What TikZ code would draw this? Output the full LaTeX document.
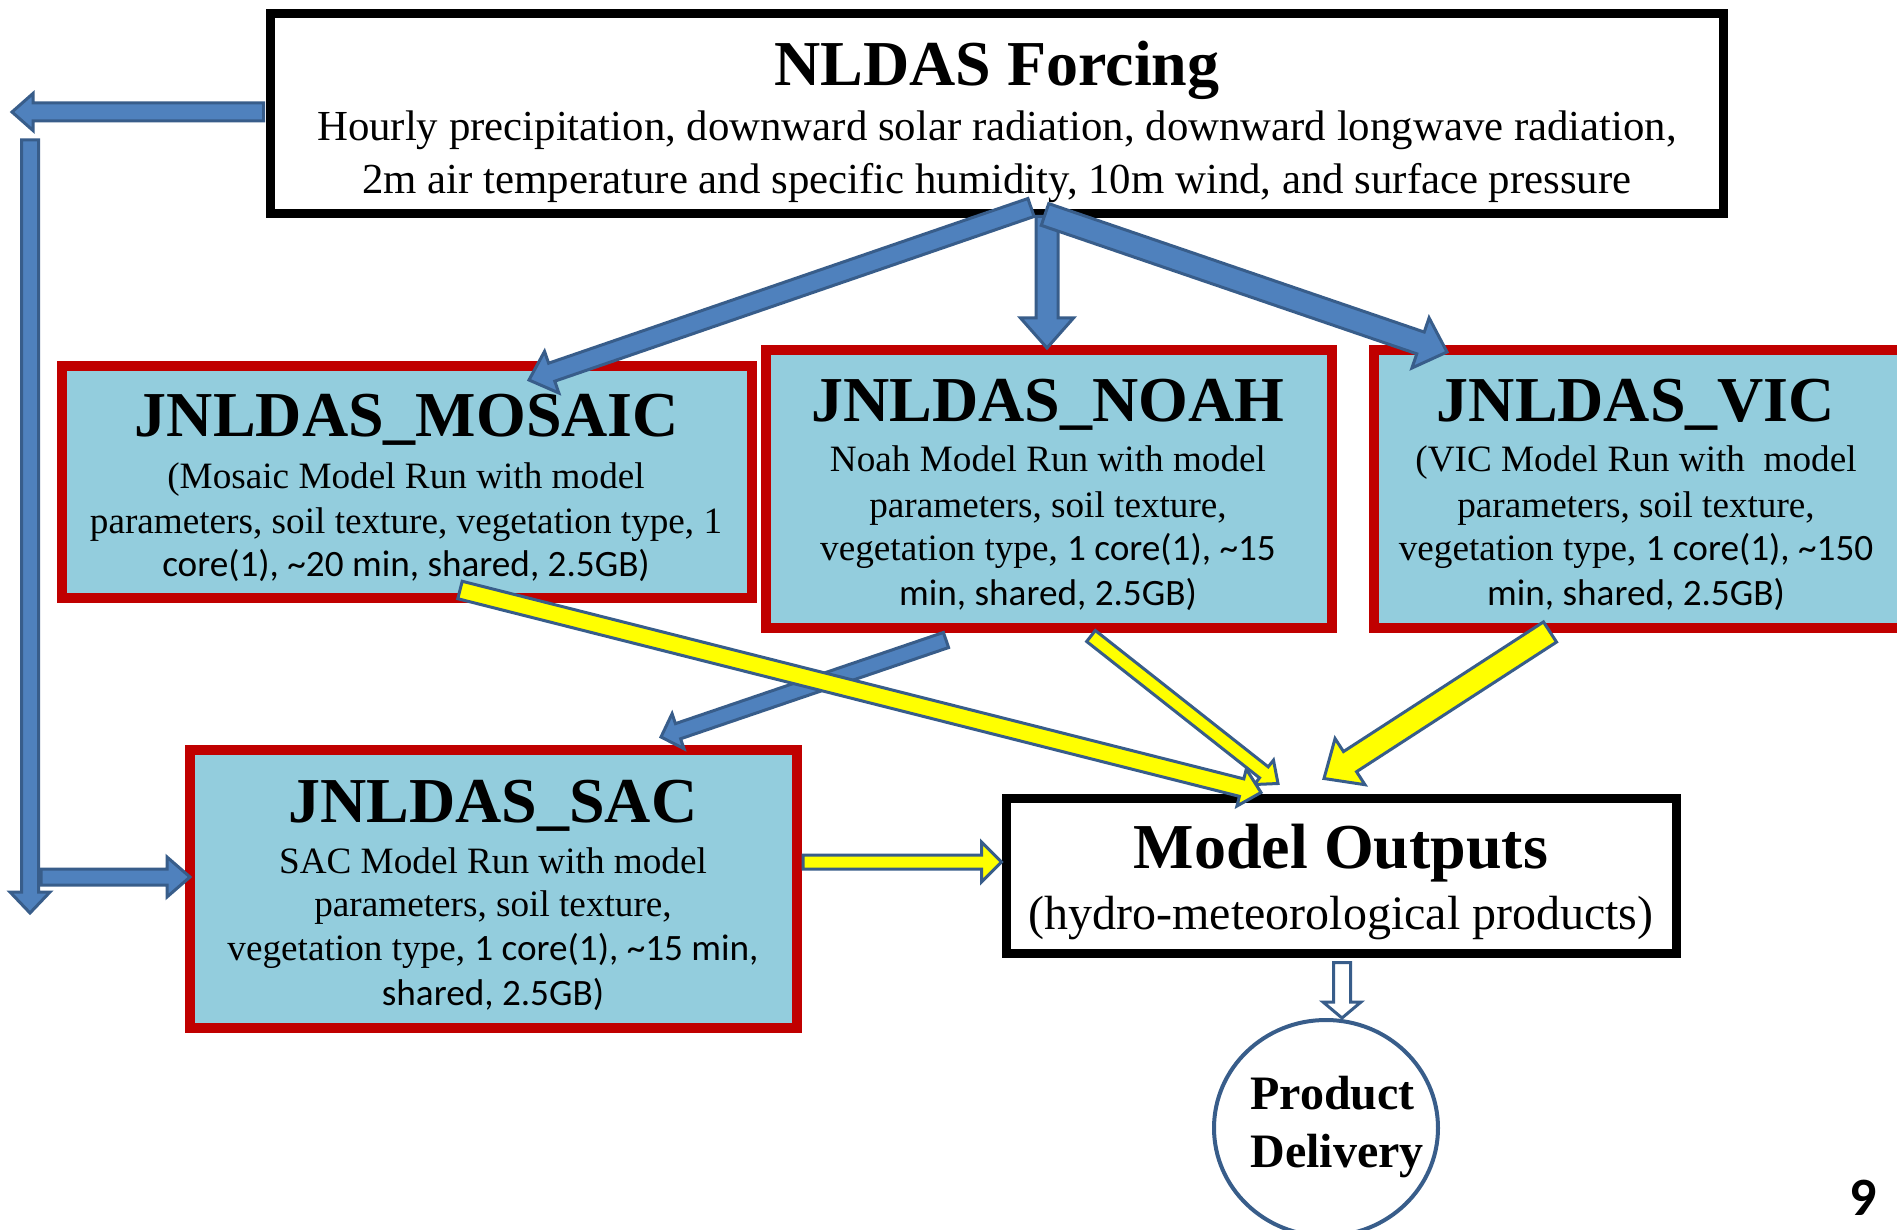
\documentclass[tikz,border=0pt]{standalone}
\usepackage{fontspec}
\setmainfont{Liberation Serif}
\newfontfamily\calib{Carlito}
\usetikzlibrary{calc,shapes.geometric}
\definecolor{boxred}{HTML}{C00000}
\definecolor{boxblue}{HTML}{93CDDD}
\definecolor{arrblue}{HTML}{4F81BD}
\definecolor{arredge}{HTML}{385D8A}
\definecolor{arryel}{HTML}{FFFF00}
% #1 style, #2 start, #3 tip, #4 shaft px, #5 head px, #6 head length px
\newcommand\blockarrow[6]{%
  \pgfmathsetmacro\BAs{(#4-3)/4}%
  \pgfmathsetmacro\BAh{(#5-3)/4}%
  \pgfmathsetmacro\BAl{#6/2}%
  \coordinate (BAbase) at ($(#3)!\BAl pt!(#2)$);
  \draw[#1] ($(#2)!\BAs pt!90:(#3)$) -- ($(BAbase)!\BAs pt!90:(#3)$) -- ($(BAbase)!\BAh pt!90:(#3)$) -- (#3) -- ($(BAbase)!\BAh pt!-90:(#3)$) -- ($(BAbase)!\BAs pt!-90:(#3)$) -- ($(#2)!\BAs pt!-90:(#3)$) -- cycle;
}
\begin{document}
\begin{tikzpicture}[x=0.5pt,y=-0.5pt,
  redbox/.style={draw=boxred, fill=boxblue, line width=5pt, inner sep=0pt},
  blackbox/.style={draw=black, fill=white, line width=4.5pt, inner sep=0pt},
  bluearrow/.style={fill=arrblue, draw=arredge, line width=1.5pt},
  yelarrow/.style={fill=arryel, draw=arredge, line width=1.5pt},
  whitearrow/.style={fill=white, draw=arredge, line width=1.5pt},
  ttl/.style={font=\bfseries\fontsize{32}{36}\selectfont, anchor=base, inner sep=0pt},
  nbody/.style={font=\fontsize{21.4}{26}\selectfont, anchor=base, inner sep=0pt},
  bbody/.style={font=\fontsize{18.6}{22}\selectfont, anchor=base, inner sep=0pt},
  subttl/.style={font=\fontsize{24}{28}\selectfont, anchor=base, inner sep=0pt},
  prodtxt/.style={font=\bfseries\fontsize{24}{28}\selectfont, anchor=base west, inner sep=0pt}]
\useasboundingbox (0,0) rectangle (1897,1230);
\fill[white] (0,0) rectangle (1897,1230);
\clip (0,0) rectangle (1897,1230);

% boxes
\node[blackbox, minimum width=726.5pt, minimum height=100pt] (nldas) at (996.5,114) {};
\node[redbox, minimum width=345pt, minimum height=116pt] (mosaic) at (407,482) {};
\node[redbox, minimum width=283pt, minimum height=139pt] (noah) at (1049,489) {};
\node[redbox, minimum width=265.5pt, minimum height=139pt] (vic) at (1639.5,489) {};
\node[redbox, minimum width=303.5pt, minimum height=139pt] (sac) at (493.5,889) {};
\node[blackbox, minimum width=335pt, minimum height=77.5pt] (out) at (1341,875.5) {};
\node[ellipse, draw=arredge, fill=white, line width=2pt, minimum width=112pt, minimum height=108pt, inner sep=0pt] (prod) at (1326,1128) {};

% texts
\node[ttl] (nlt) at (997,86) {NLDAS Forcing};
\node[nbody] (nl1) at (997,141) {Hourly precipitation, downward solar radiation, downward longwave radiation,};
\node[nbody] (nl2) at (997,194) {2m air temperature and specific humidity, 10m wind, and surface pressure};

\node[ttl] (mot) at (407,437) {JNLDAS\_MOSAIC};
\node[bbody] (mo1) at (406,488) {(Mosaic Model Run with model};
\node[bbody] (mo2) at (406,533) {parameters, soil texture, vegetation type, 1};
\node[bbody] (mo3) at (406,576) {\calib core(1), \textasciitilde 20 min, shared, 2.5GB)};

\node[ttl] (not) at (1048,422) {JNLDAS\_NOAH};
\node[bbody] (no1) at (1048,472) {Noah Model Run with model};
\node[bbody] (no2) at (1048,517) {parameters, soil texture,};
\node[bbody] (no3) at (1048,560) {vegetation type, {\calib 1 core(1), \textasciitilde 15}};
\node[bbody] (no4) at (1048,605) {\calib min, shared, 2.5GB)};

\node[ttl] (vit) at (1636,422) {JNLDAS\_VIC};
\node[bbody] (vi1) at (1636,472) {(VIC Model Run with\ \ model};
\node[bbody] (vi2) at (1636,517) {parameters, soil texture,};
\node[bbody] (vi3) at (1636,560) {vegetation type, {\calib 1 core(1), \textasciitilde 150}};
\node[bbody] (vi4) at (1636,605) {\calib min, shared, 2.5GB)};

\node[ttl] (sat) at (493,822) {JNLDAS\_SAC};
\node[bbody] (sa1) at (493,873) {SAC Model Run with model};
\node[bbody] (sa2) at (493,916) {parameters, soil texture,};
\node[bbody] (sa3) at (493,960) {vegetation type, {\calib 1 core(1), \textasciitilde 15 min,}};
\node[bbody] (sa4) at (493,1005) {\calib shared, 2.5GB)};

\node[ttl] (outt) at (1341,868) {Model Outputs};
\node[subttl] (out1) at (1341,929) {(hydro-meteorological products)};

\node[prodtxt] (pr1) at (1250,1109) {Product};
\node[prodtxt] (pr2) at (1250,1167) {Delivery};

\node[font=\calib\bfseries\fontsize{27}{30}\selectfont, anchor=base, inner sep=0pt] (pnum) at (1863,1215) {9};

% connector end points
\coordinate (a1s) at ($(nldas.west)+(-2,-2)$);
\coordinate (a1t) at (12,112);
\coordinate (a2s) at (30,140);
\coordinate (a2t) at (30,913);
\coordinate (a3s) at (41,877);
\coordinate (a3t) at ($(sac.west)+(5,-12)$);
\coordinate (a4s) at ($(nldas.south)+(34.5,-11)$);
\coordinate (a4t) at ($(mosaic.north)+(122,19)$);
\coordinate (a5s) at ($(nldas.south)+(50.5,-2)$);
\coordinate (a5t) at ($(noah.north)+(-2,3)$);
\coordinate (a6s) at ($(nldas.south)+(48.5,-4)$);
\coordinate (a6t) at ($(vic.north)+(-192.5,7)$);
\coordinate (a7s) at ($(noah.south)+(-103,7)$);
\coordinate (a7t) at ($(sac.north)+(167.5,-8)$);
\coordinate (a8s) at ($(mosaic.south)+(53,-13)$);
\coordinate (a8t) at ($(out.north)+(-80,-1)$);
\coordinate (a9s) at ($(noah.south)+(42,3)$);
\coordinate (a9t) at ($(out.north)+(-63,-10)$);
\coordinate (a10s) at ($(vic.south)+(-89.5,-1)$);
\coordinate (a10t) at ($(out.north)+(-17,-15)$);
\coordinate (a11s) at ($(sac.east)+(1,-27)$);
\coordinate (a11t) at ($(out.west)+(0,-13.5)$);
\coordinate (a12s) at ($(out.south)+(1,5)$);
\coordinate (a12t) at ($(prod.north)+(16,0)$);

% connectors
\blockarrow{bluearrow}{a1s}{a1t}{21}{40}{21}
\blockarrow{bluearrow}{a2s}{a2t}{20}{43}{21}
\blockarrow{bluearrow}{a3s}{a3t}{19}{43}{23}
\blockarrow{bluearrow}{a5s}{a5t}{25}{56}{30}
\blockarrow{bluearrow}{a4s}{a4t}{22}{47}{24}
\blockarrow{bluearrow}{a6s}{a6t}{26}{56}{28}
\blockarrow{bluearrow}{a7s}{a7t}{19}{40}{18}
\blockarrow{yelarrow}{a9s}{a9t}{17}{34}{18}
\blockarrow{yelarrow}{a8s}{a8t}{21}{41}{20}
\blockarrow{yelarrow}{a10s}{a10t}{27}{58}{31}
\blockarrow{yelarrow}{a11s}{a11t}{17}{43}{20}
\blockarrow{whitearrow}{a12s}{a12t}{20}{41}{16}
\end{tikzpicture}
\end{document}
